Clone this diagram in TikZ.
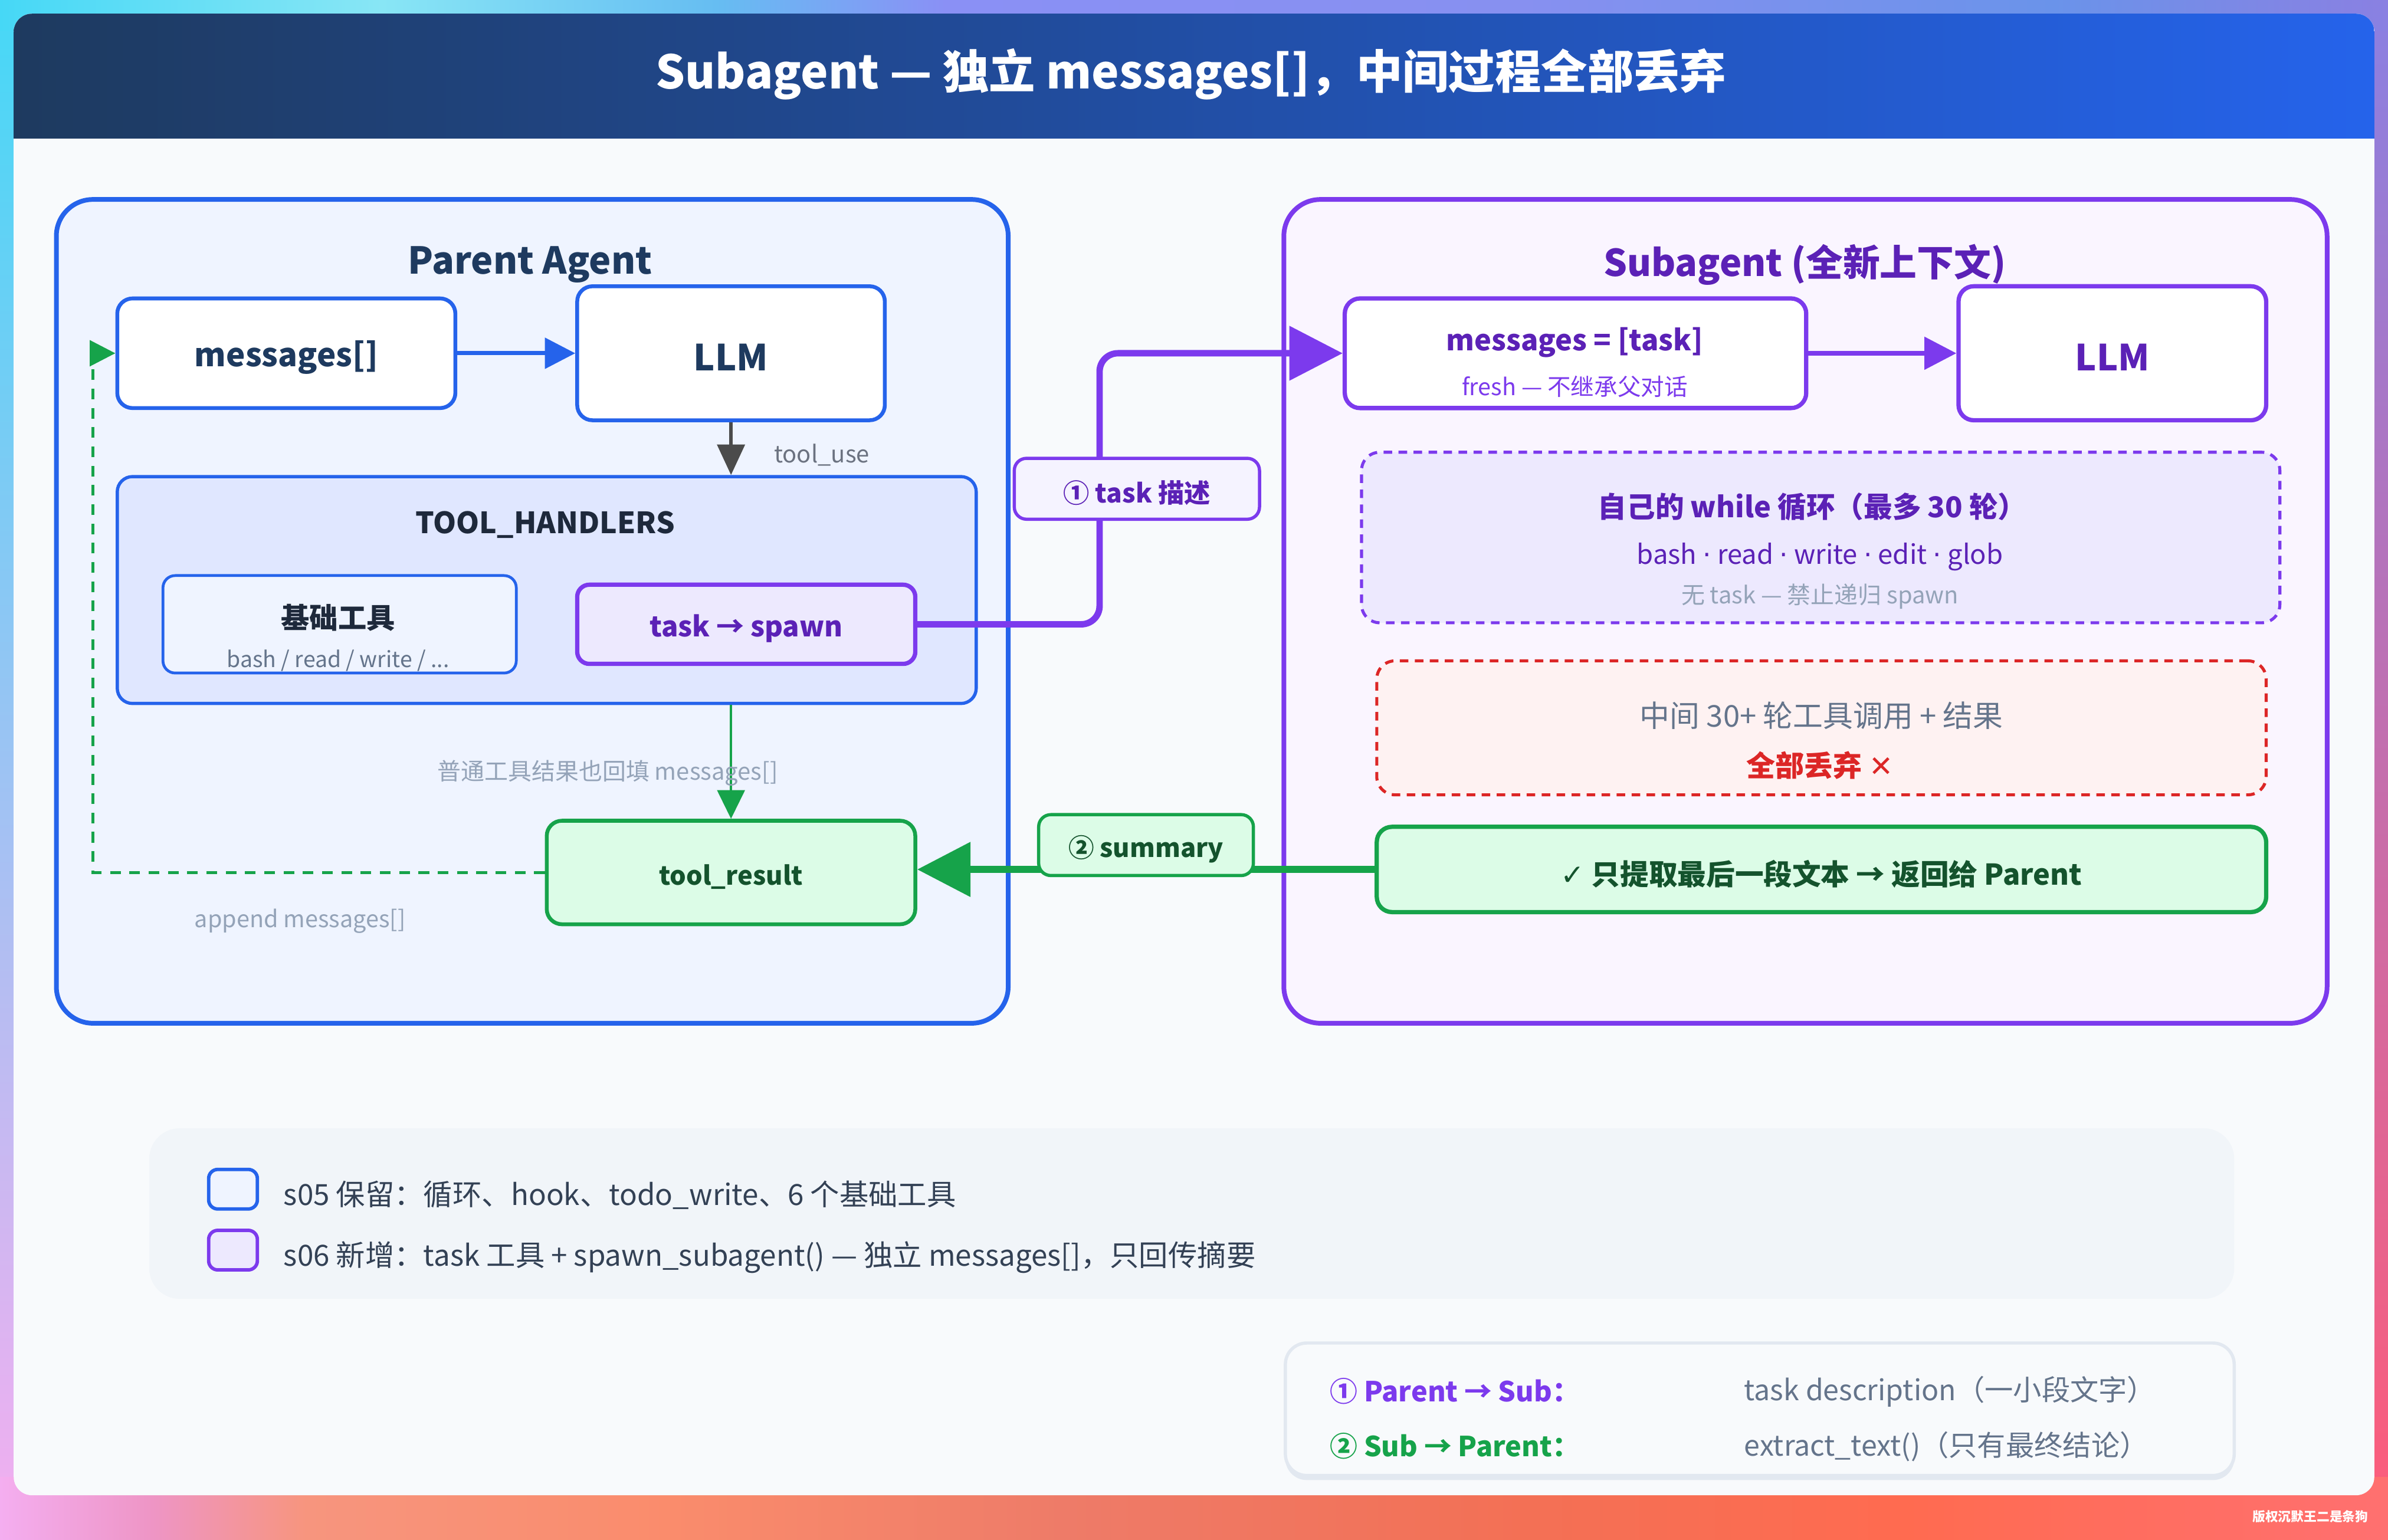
\documentclass[tikz,border=0pt]{standalone}
\usepackage{fontspec}
\setmainfont{Noto Sans CJK SC}
\newfontface\symf{DejaVu Sans}
\usetikzlibrary{arrows.meta}

\definecolor{navy}{HTML}{1E3A5F}
\definecolor{blueln}{HTML}{2563EB}
\definecolor{bluefill}{HTML}{EFF4FF}
\definecolor{handlerfill}{HTML}{E0E7FF}
\definecolor{purpleln}{HTML}{7C3AED}
\definecolor{purpletx}{HTML}{5B21B6}
\definecolor{purplefill}{HTML}{EDE9FE}
\definecolor{taglilac}{HTML}{F5F3FF}
\definecolor{subfill}{HTML}{FAF5FF}
\definecolor{greenln}{HTML}{16A34A}
\definecolor{greentx}{HTML}{14532D}
\definecolor{greenfill}{HTML}{DCFCE7}
\definecolor{redln}{HTML}{DC2626}
\definecolor{redfill}{HTML}{FEF2F2}
\definecolor{slate}{HTML}{64748B}
\definecolor{graytx}{HTML}{6B7280}
\definecolor{muted}{HTML}{94A3B8}
\definecolor{ink}{HTML}{1E293B}
\definecolor{legendtx}{HTML}{334155}
\definecolor{cardbg}{HTML}{F8FAFC}
\definecolor{panelbg}{HTML}{F1F5F9}
\definecolor{panelln}{HTML}{E2E8F0}
\definecolor{arrowgray}{HTML}{4B4B4B}
\definecolor{bgA}{HTML}{46D8F6}
\definecolor{bgB}{HTML}{88E6F5}
\definecolor{bgC}{HTML}{66BDF2}
\definecolor{bgD}{HTML}{8A90F5}
\definecolor{bgE}{HTML}{8790F0}
\definecolor{bgF}{HTML}{6A93EA}
\definecolor{bgG}{HTML}{8A80E2}
\definecolor{bgM}{HTML}{B8B8F2}
\definecolor{bgN}{HTML}{C878D0}
\definecolor{bgP}{HTML}{F4AEF0}
\definecolor{bgR}{HTML}{FF5C78}
\definecolor{bbA}{HTML}{F4AEF0}
\definecolor{bbB}{HTML}{EE95C5}
\definecolor{bbC}{HTML}{F7957E}
\definecolor{bbD}{HTML}{FA8C6C}
\definecolor{bbE}{HTML}{EE7B68}
\definecolor{bbF}{HTML}{F37055}
\definecolor{bbG}{HTML}{FF6B50}
\definecolor{bbH}{HTML}{FF7070}

\pgfdeclarehorizontalshading{topband}{100bp}{color(0bp)=(bgA); color(25bp)=(bgA); color(33bp)=(bgB); color(40bp)=(bgC); color(44.8bp)=(bgD); color(56.9bp)=(bgE); color(68bp)=(bgF); color(75bp)=(bgG); color(100bp)=(bgG)}
\pgfdeclarehorizontalshading{bottomband}{100bp}{color(0bp)=(bbA); color(25bp)=(bbA); color(28.2bp)=(bbB); color(31.4bp)=(bbC); color(39bp)=(bbD); color(47.3bp)=(bbE); color(56.9bp)=(bbF); color(64.9bp)=(bbG); color(75bp)=(bbH); color(100bp)=(bbH)}

\newcommand\fs[1]{\fontsize{#1}{#1}\selectfont}
\newcommand\dotsep{ {\symf ·} }

\tikzset{
  bx/.style 2 args={minimum width=#1*0.025cm, minimum height=#2*0.025cm, inner sep=0pt},
  frame/.style={draw, line width=2.2pt, rounded corners=0.6cm},
  box/.style={draw, line width=1.8pt, rounded corners=0.25cm},
  tag/.style={draw, line width=1.5pt, rounded corners=0.2cm},
  txt/.style={yshift=-2pt},
  note/.style={txt, font=\fs{11}, text=muted},
  swatch/.style={draw, line width=1.6pt, rounded corners=0.15cm, bx={32}{26}},
  lefttext/.style={txt, anchor=west, inner sep=0pt},
  legendtext/.style={lefttext, font=\fs{13.6}, text=legendtx}
}

\begin{document}
\begin{tikzpicture}[x=0.025cm, y=-0.025cm]
\useasboundingbox (0,0) rectangle (1568,1011);
\shade[top color=bgA, middle color=bgM, bottom color=bgP] (0,0) rectangle (20,1011);
\shade[top color=bgG, middle color=bgN, bottom color=bgR] (1548,0) rectangle (1568,1011);
\shade[shading=topband] (0,0) rectangle (1568,20);
\shade[shading=bottomband] (0,970) rectangle (1568,1011);
\fill[cardbg, rounded corners=0.3cm] (9,9) rectangle (1559,982);
\begin{scope}
  \clip[rounded corners=0.3cm] (9,9) rectangle (1559,982);
  \shade[left color=navy, right color=blueln] (9,9) rectangle (1559,91);
\end{scope}
\node[txt, font=\fs{21.6}\bfseries, text=white] (T0) at (782,46) {Subagent — 独立 messages[]，中间过程全部丢弃};

\node[frame, draw=blueln, fill=bluefill, bx={625}{541}] (P0) at (349.5,401.5) {};
\node[txt, font=\fs{17.3}\bfseries, text=navy] (P0t) at (348,171) {Parent Agent};
\node[box, draw=blueln, fill=white, bx={222}{72}] (P1) at (188,232) {};
\node[txt, font=\fs{15}\bfseries, text=navy] (P1t) at (P1) {messages[]};
\node[box, draw=blueln, fill=white, bx={202}{88}] (P2) at (480,232) {};
\node[txt, font=\fs{16.8}\bfseries, text=navy] (P2t) at (P2) {LLM};
\node[box, draw=blueln, fill=handlerfill, line width=1.5pt, bx={564}{149}] (P3) at (359,387.5) {};
\node[txt, font=\fs{13.7}\bfseries, text=ink] (P3t) at (358,342) {TOOL\_HANDLERS};
\node[box, draw=blueln, fill=bluefill, line width=1.3pt, rounded corners=0.2cm, bx={232}{64}] (P4) at (223,410) {};
\node[txt, font=\fs{13.3}\bfseries, text=ink] (P4a) at (222,403) {基础工具};
\node[txt, font=\fs{10.3}, text=slate] (P4b) at (222,431) {bash / read / write / ...};
\node[box, draw=purpleln, fill=purplefill, line width=2pt, rounded corners=0.2cm, bx={222}{52}] (P5) at (490,410) {};
\node[txt, font=\fs{13}\bfseries, text=purpletx] (P5t) at (P5) {task → spawn};
\node[box, draw=greenln, fill=greenfill, bx={242}{68}] (P6) at (480,573) {};
\node[txt, font=\fs{12}\bfseries, text=greentx] (P6t) at (P6) {tool\_result};

\node[frame, draw=purpleln, fill=subfill, bx={685}{541}] (S0) at (1185.5,401.5) {};
\node[txt, font=\fs{17.3}\bfseries, text=purpletx] (S0t) at (1185,171) {Subagent (全新上下文)};
\node[box, draw=purpleln, fill=white, line width=2pt, bx={303}{72}] (S1) at (1034.5,232) {};
\node[txt, font=\fs{13.4}\bfseries, text=purpletx] (S1a) at (1034,222) {messages = [task]};
\node[txt, font=\fs{10.9}, text=purpleln] (S1b) at (1034,251) {fresh — 不继承父对话};
\node[box, draw=purpleln, fill=white, line width=2pt, bx={202}{88}] (S2) at (1387,232) {};
\node[txt, font=\fs{16.8}\bfseries, text=purpletx] (S2t) at (S2) {LLM};
\node[box, draw=purpleln, fill=purplefill, line width=1.4pt, dash pattern=on 4pt off 3pt, rounded corners=0.3cm, bx={603}{112}] (S3) at (1195.5,353) {};
\node[txt, font=\fs{13.4}\bfseries, text=purpletx] (S3a) at (1190,330) {自己的 while 循环（最多 30 轮）};
\node[txt, font=\fs{12.5}, text=purpletx] (S3b) at (1195,363) {bash\dotsep read\dotsep write\dotsep edit\dotsep glob};
\node[txt, font=\fs{11}, text=muted] (S3c) at (1195,389) {无 task — 禁止递归 spawn};
\node[box, draw=redln, fill=redfill, line width=1.4pt, dash pattern=on 4pt off 3pt, rounded corners=0.3cm, bx={584}{88}] (S4) at (1196,478) {};
\node[txt, font=\fs{14}, text=slate] (S4a) at (1196,467) {中间 30+ 轮工具调用 + 结果};
\node[txt, font=\fs{13.5}\bfseries, text=redln] (S4b) at (1195,500) {全部丢弃 {\symf ✕}};
\node[box, draw=greenln, fill=greenfill, line width=2pt, bx={584}{56}] (S5) at (1196,571) {};
\node[txt, font=\fs{13.4}\bfseries, text=greentx] (S5t) at (S5) {{\symf ✓} 只提取最后一段文本 → 返回给 Parent};

\coordinate (C1) at (61,400);
\coordinate (C2) at (722,320);
\draw[blueln, line width=1.9pt, -{Triangle[length=0.5cm,width=0.5cm]}] (P1.east) -- (P2.west);
\draw[arrowgray, line width=1.5pt, -{Triangle[length=0.5cm,width=0.45cm]}] (P2.south) -- (P2.south |- P3.north);
\node[lefttext, font=\fs{11}, text=graytx] (U1) at (508,296) {tool\_use};
\draw[greenln, line width=1.2pt, -{Triangle[length=0.47cm,width=0.45cm]}] (P6.north |- P3.south) -- (P6.north);
\node[note] (U2) at (399,505) {普通工具结果也回填 messages[]};
\draw[greenln, line width=1.5pt, dash pattern=on 5pt off 4pt, -{Triangle[length=0.42cm,width=0.42cm]}] (P6.west) -| (C1) |- (P1.west);
\node[note, font=\fs{10.9}] (U3) at (197,602) {append messages[]};
\draw[purpleln, line width=3pt, rounded corners=0.3cm, -{Triangle[length=0.875cm,width=0.875cm]}] (P5.east) -| (C2) |- (S1.west);
\draw[purpleln, line width=2.2pt, -{Triangle[length=0.525cm,width=0.525cm]}] (S1.east) -- (S2.west);
\draw[greenln, line width=3.4pt, -{Triangle[length=0.875cm,width=0.875cm]}] (S5.west) -- (S5.west -| P6.east);
\node[tag, draw=purpleln, fill=taglilac, bx={161}{40}] (L1) at (746.5,321) {};
\node[txt, font=\fs{12.2}\bfseries, text=purpletx] (L1t) at (L1) {① task 描述};
\node[tag, draw=greenln, fill=greenfill, bx={141}{40}] (L2) at (752.5,555) {};
\node[txt, font=\fs{12}\bfseries, text=greentx] (L2t) at (L2) {② summary};

\node[fill=panelbg, rounded corners=0.5cm, bx={1369}{112}] (G0) at (782.5,797) {};
\node[swatch, draw=blueln, fill=bluefill] (G1) at (153,781) {};
\node[swatch, draw=purpleln, fill=purplefill] (G2) at (153,821) {};
\node[legendtext] (G3) at (186,782) {s05 保留：循环、hook、todo\_write、6 个基础工具};
\node[legendtext] (G4) at (186,823) {s06 新增：task 工具 + spawn\_subagent() — 独立 messages[]，只回传摘要};

\fill[panelln, rounded corners=0.35cm] (844,885) rectangle (1467,972);
\node[draw=panelln, fill=cardbg, line width=1.5pt, rounded corners=0.35cm, bx={623}{87}] (R0) at (1155.5,925.5) {};
\node[lefttext, font=\fs{12.9}\bfseries, text=purpleln] (R1) at (873,911) {① Parent → Sub：};
\node[lefttext, font=\fs{13.3}, text=slate] (R2) at (1145,911) {task description（一小段文字）};
\node[lefttext, font=\fs{12.9}\bfseries, text=greenln] (R3) at (873,947) {② Sub → Parent：};
\node[lefttext, font=\fs{13.3}, text=slate] (R4) at (1145,947) {extract\_text()（只有最终结论）};

\node[font=\fs{6}\bfseries, text=white] (W0) at (1517,996) {版权沉默王二是条狗};
\end{tikzpicture}
\end{document}
